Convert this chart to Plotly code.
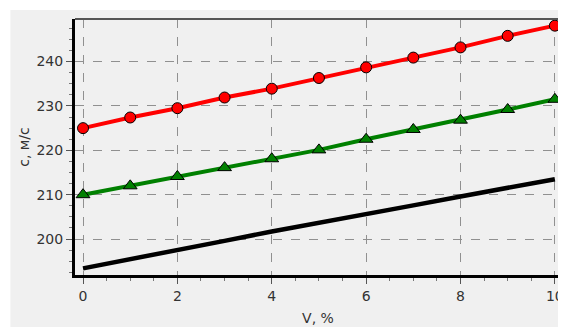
import plotly.graph_objects as go

v = [0, 1, 2, 3, 4, 5, 6, 7, 8, 9, 10]
c_red = [225.0, 227.4, 229.5, 231.9, 233.9, 236.3, 238.7, 240.9, 243.2, 245.8, 248.1]
c_green = [210.0, 212.0, 214.1, 216.1, 218.1, 220.1, 222.5, 224.7, 226.8, 229.2, 231.5]
c_black = [193.4, 195.4, 197.4, 199.6, 201.7, 203.6, 205.5, 207.6, 209.6, 211.6, 213.5]

fig = go.Figure()
fig.add_trace(go.Scatter(x=v, y=c_black, mode="lines",
                         line=dict(color="black", width=4.5), showlegend=False))
fig.add_trace(go.Scatter(x=v, y=c_green, mode="lines+markers",
                         line=dict(color="#008000", width=4),
                         marker=dict(symbol="triangle-up", size=12, color="#008000",
                                     line=dict(color="black", width=1)),
                         showlegend=False, cliponaxis=False))
fig.add_trace(go.Scatter(x=v, y=c_red, mode="lines+markers",
                         line=dict(color="#ff0000", width=4),
                         marker=dict(symbol="circle", size=11, color="#ff0000",
                                     line=dict(color="black", width=1)),
                         showlegend=False, cliponaxis=False))

# page body has an 8px margin; figure placed accordingly
W, H = 558, 319
L, R, T, B = 67, 2, 11, 51
pw, ph = W - L - R, H - T - B

fig.add_shape(type="rect", xref="paper", yref="paper",
              x0=(2 - L) / pw, x1=(W - L) / pw + 0.01,
              y0=-(B + 2) / ph, y1=(H - B - 2) / ph,
              fillcolor="#f0f0f0", line=dict(width=0), layer="below")
# top and right frame lines
fig.add_shape(type="line", xref="paper", yref="paper", x0=0, x1=1, y0=1, y1=1,
              line=dict(color="#555555", width=2))
fig.add_shape(type="line", xref="paper", yref="paper", x0=1, x1=1, y0=0, y1=1,
              line=dict(color="#555555", width=2))

font = dict(family="DejaVu Sans", size=14, color="#333333")

fig.update_layout(
    width=W, height=H,
    margin=dict(l=L, r=R, t=T, b=B),
    paper_bgcolor="white",
    plot_bgcolor="#f0f0f0",
    font=font,
    xaxis=dict(range=[-0.17, 10.13], tickmode="array", tickvals=[0, 2, 4, 6, 8, 10],
               showgrid=True, gridcolor="#909090", griddash="dash", gridwidth=1,
               showline=True, linecolor="black", linewidth=3,
               ticks="outside", ticklen=6, tickcolor="#555555", tickwidth=1,
               minor=dict(dtick=0.5, ticks="outside", ticklen=3, tickcolor="#777777", showgrid=False),
               zeroline=False, tickfont=font, ticklabeloverflow="allow",
               title=dict(text="V, %", font=font, standoff=11)),
    yaxis=dict(range=[191.9, 249.6], tickmode="array", tickvals=[200, 210, 220, 230, 240],
               showgrid=True, gridcolor="#909090", griddash="dash", gridwidth=1,
               showline=True, linecolor="black", linewidth=3,
               ticks="outside", ticklen=6, tickcolor="#555555", tickwidth=1,
               minor=dict(dtick=2.5, ticks="outside", ticklen=3, tickcolor="#777777", showgrid=False),
               zeroline=False, tickfont=font,
               title=dict(text="c, м/с", font=font, standoff=4)),
)

fig.write_html("out.html")
